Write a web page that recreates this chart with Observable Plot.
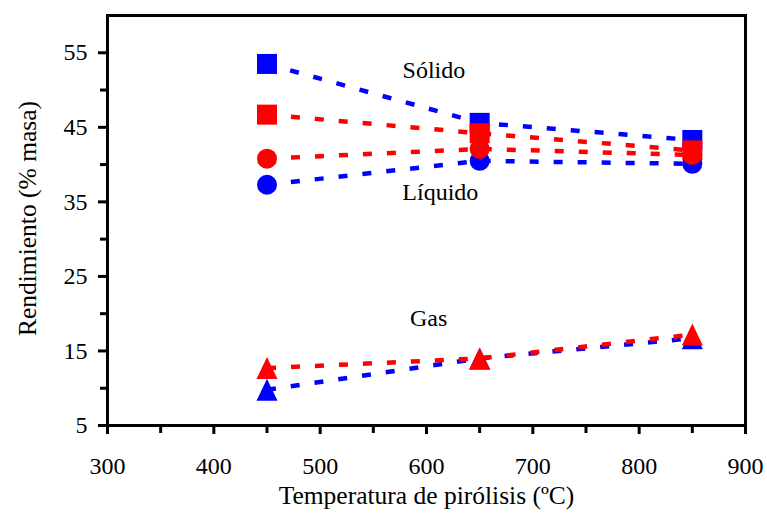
<!DOCTYPE html>
<html>
<head>
<meta charset="utf-8">
<script src="https://cdn.jsdelivr.net/npm/d3@7"></script>
<script src="https://cdn.jsdelivr.net/npm/@observablehq/plot@0.6"></script>
<style>
  html, body { margin: 0; padding: 0; background: #fff; }
</style>
</head>
<body>
<div id="chart"></div>
<script>
// ---- data ----
const temps = [450, 650, 850];
const solidoAzul = [53.5, 45.6, 43.3];
const solidoRojo = [46.7, 44.2, 41.9];
const liquidoRojo = [40.8, 42.1, 41.3];
const liquidoAzul = [37.3, 40.5, 40.1];
const gasRojo = [12.7, 14.0, 17.2];
const gasAzul = [9.8, 14.0, 16.7];

const xTicks = [300, 400, 500, 600, 700, 800, 900];
const xMinor = [350, 450, 550, 650, 750, 850];
const yTicks = [5, 15, 25, 35, 45, 55];
const yMinor = [10, 20, 30, 40, 50];

const labelNames = ["Sólido", "Líquido", "Gas"];
const labelX = [607, 613, 602];
const labelY = [52.7, 36.3, 19.4];

const xTitle = "Temperatura de pirólisis (ºC)";
const yTitle = "Rendimiento (% masa)";

// ---- build tables ----
const toRows = vals => temps.map((t, i) => ({t, v: vals[i]}));
const labels = labelNames.map((n, i) => ({n, x: labelX[i], y: labelY[i]}));

const squareSym = {draw(ctx, size) { const h = 10; ctx.moveTo(-h, -h); ctx.lineTo(h, -h); ctx.lineTo(h, h); ctx.lineTo(-h, h); ctx.closePath(); }};
const triSym = {draw(ctx, size) { ctx.moveTo(0, -11); ctx.lineTo(10.5, 11); ctx.lineTo(-10.5, 11); ctx.closePath(); }};

const BLUE = "#0000ff", RED = "#ff0000";
const dash = {strokeWidth: 4.5, strokeDasharray: "9,15", strokeLinecap: "butt"};

function series(vals, color) {
  return Plot.line(toRows(vals), {x: "t", y: "v", stroke: color, ...dash});
}
function markers(vals, color, symbol, r) {
  return Plot.dot(toRows(vals), {x: "t", y: "v", fill: color, stroke: "none", symbol, r});
}

const chart = Plot.plot({
  width: 767,
  height: 518,
  marginLeft: 107,
  marginRight: 22,
  marginTop: 15,
  marginBottom: 93,
  style: {fontFamily: "'Liberation Serif', 'Times New Roman', serif", fontSize: "24px", background: "white", color: "black"},
  x: {domain: [300, 900]},
  y: {domain: [5, 60]},
  marks: [
    series(solidoAzul, BLUE),
    series(solidoRojo, RED),
    series(liquidoAzul, BLUE),
    series(liquidoRojo, RED),
    series(gasAzul, BLUE),
    series(gasRojo, RED),
    markers(solidoAzul, BLUE, squareSym, 10),
    markers(solidoRojo, RED, squareSym, 10),
    markers(liquidoAzul, BLUE, "circle", 10),
    markers(liquidoRojo, RED, "circle", 10),
    markers(gasAzul, BLUE, triSym, 10),
    markers(gasRojo, RED, triSym, 10),
    Plot.text(labels, {x: "x", y: "y", text: "n", fontSize: 24, fill: "black"}),
    Plot.axisX({ticks: xTicks, tickSize: 9, tickPadding: 22, strokeWidth: 3, label: null, fontSize: 24}),
    Plot.axisX({ticks: xMinor, tickSize: 8, strokeWidth: 3, label: null, tickFormat: () => ""}),
    Plot.axisY({ticks: yTicks, tickSize: 9, tickPadding: 11, strokeWidth: 3, label: null, fontSize: 24}),
    Plot.axisY({ticks: yMinor, tickSize: 7, strokeWidth: 3, label: null, tickFormat: () => ""}),
    Plot.frame({stroke: "black", strokeWidth: 3}),
    Plot.text([xTitle], {text: d => d, frameAnchor: "bottom", textAnchor: "middle", dy: 78, fontSize: 25.5, fill: "black"}),
    Plot.text([yTitle], {text: d => d, frameAnchor: "left", textAnchor: "middle", dx: -80, dy: -2, rotate: -90, fontSize: 25.5, fill: "black"})
  ]
});
document.getElementById("chart").appendChild(chart);
</script>
</body>
</html>
